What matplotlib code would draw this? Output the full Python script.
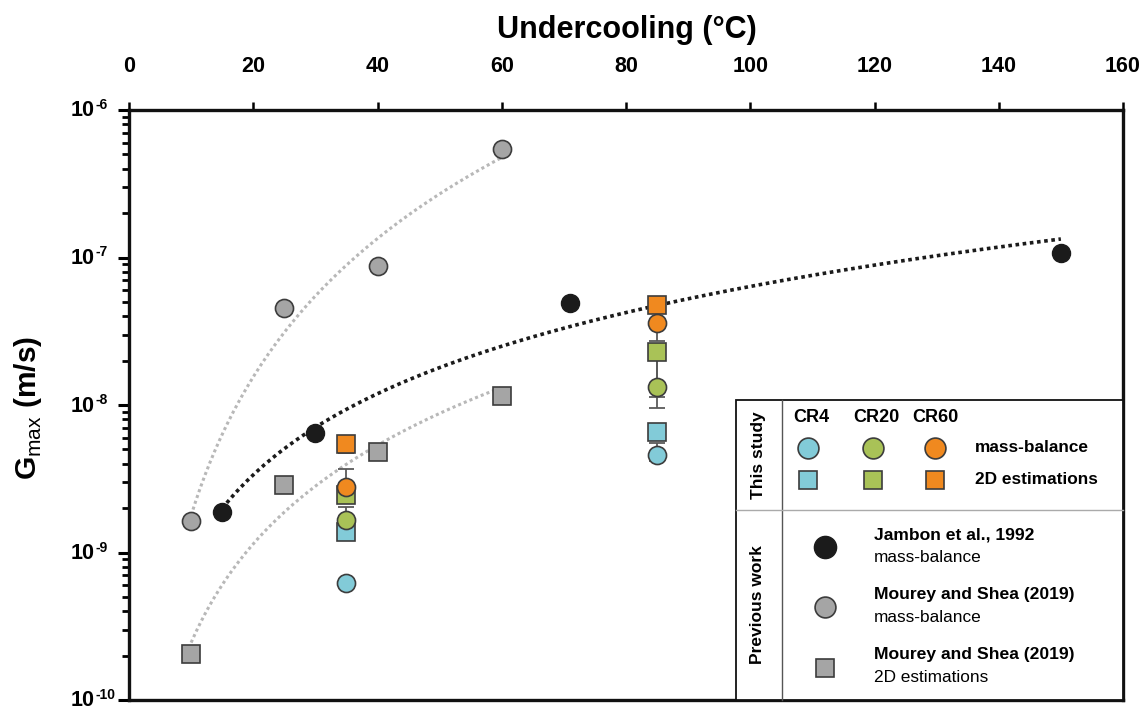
import numpy as np
import matplotlib
matplotlib.use('Agg')
import matplotlib.pyplot as plt
from matplotlib.patches import Rectangle
from matplotlib.ticker import LogLocator, NullFormatter, FixedLocator
from matplotlib.transforms import blended_transform_factory, offset_copy

plt.rcParams['font.family'] = ['Liberation Sans', 'DejaVu Sans']
plt.rcParams['mathtext.fontset'] = 'custom'
plt.rcParams['mathtext.rm'] = 'Liberation Sans'
plt.rcParams['mathtext.bf'] = 'Liberation Sans:bold'

# previous work
jambon_dt = [15, 30, 71, 150]
jambon_g = [1.87e-9, 6.5e-9, 4.9e-8, 1.07e-7]
mourey_mb_dt = [10, 25, 40, 60]
mourey_mb_g = [1.63e-9, 4.56e-8, 8.8e-8, 5.44e-7]
mourey_2d_dt = [10, 25, 40, 60]
mourey_2d_g = [2.04e-10, 2.87e-9, 4.8e-9, 1.15e-8]

# this study (undercooling 35 and 85 °C)
study_dt = [35, 85]
cr4_mb = [6.2e-10, 4.6e-9]
cr20_mb = [1.66e-9, 1.32e-8]
cr60_mb = [2.78e-9, 3.6e-8]
cr4_2d = [1.38e-9, 6.6e-9]
cr20_2d = [2.45e-9, 2.29e-8]
cr60_2d = [5.4e-9, 4.8e-8]

# error bounds (low, high); None = no bar
cr4_mb_err = [None, (4.2e-9, 5.5e-9)]
cr20_mb_err = [(1.45e-9, 2.05e-9), (9.5e-9, 2.1e-8)]
cr60_mb_err = [(2.3e-9, 3.7e-9), (2.7e-8, 4.3e-8)]
cr20_2d_err = [None, (1.13e-8, 2.29e-8)]
cr60_2d_err = [(4.7e-9, 5.4e-9), None]

y_decades = [-10, -9, -8, -7, -6]

c_cyan = '#82CBD8'
c_green = '#A9C257'
c_orange = '#F0891F'
c_gray = '#A5A5A5'
c_black = '#1B1B1B'
edge = '#3C3C3C'

W, H = 1146, 706
fig = plt.figure(figsize=(W / 100, H / 100), dpi=100)
ax = fig.add_axes([129 / W, 6 / H, (1123 - 129) / W, (700 - 110) / H])
ax.set_yscale('log')
ax.set_xlim(0, 160)
ax.set_ylim(1e-10, 1e-6)


def power_fit(x, y):
    b, a = np.polyfit(np.log(x), np.log(y), 1)
    xs = np.linspace(min(x), max(x), 200)
    return xs, np.exp(a) * xs ** b


xs, ys = power_fit(jambon_dt, jambon_g)
ax.plot(xs, ys, color=c_black, lw=2.6, ls=(0, (1, 1)), zorder=2)
xs, ys = power_fit(mourey_mb_dt, mourey_mb_g)
ax.plot(xs, ys, color='#B8B8B8', lw=2.2, ls=(0, (1, 1)), zorder=2)
xs, ys = power_fit(mourey_2d_dt, mourey_2d_g)
ax.plot(xs, ys, color='#B8B8B8', lw=2.2, ls=(0, (1, 1)), zorder=2)


def bars(vals, errs):
    for x, v, e in zip(study_dt, vals, errs):
        if e is None:
            continue
        ax.errorbar([x], [v], yerr=[[v - e[0]], [e[1] - v]], fmt='none',
                    ecolor='#5A5A5A', elinewidth=1.3, capsize=6, capthick=1.3,
                    zorder=3)


for vals, errs in [(cr4_mb, cr4_mb_err), (cr20_mb, cr20_mb_err),
                   (cr60_mb, cr60_mb_err), (cr20_2d, cr20_2d_err),
                   (cr60_2d, cr60_2d_err)]:
    bars(vals, errs)

mk = dict(ls='none', mec=edge, mew=1.2, zorder=4)
ax.plot(mourey_2d_dt, mourey_2d_g, 's', ms=12.5, mfc=c_gray, **mk)
ax.plot(mourey_mb_dt, mourey_mb_g, 'o', ms=13, mfc=c_gray, **mk)
ax.plot(jambon_dt, jambon_g, 'o', ms=13, mfc=c_black, ls='none', mec=c_black, zorder=4)
for vals, col in [(cr4_2d, c_cyan), (cr20_2d, c_green), (cr60_2d, c_orange)]:
    ax.plot(study_dt, vals, 's', ms=12.5, mfc=col, **mk)
for vals, col in [(cr4_mb, c_cyan), (cr20_mb, c_green), (cr60_mb, c_orange)]:
    ax.plot(study_dt, vals, 'o', ms=13, mfc=col, **mk)

# axes styling
for s in ax.spines.values():
    s.set_linewidth(2.4)
    s.set_color('#111111')
ax.xaxis.tick_top()
ax.set_xticks(np.arange(0, 161, 20))
ax.tick_params(axis='x', which='major', direction='out', length=6, width=1.8,
               pad=18, labelsize=15.5)
for lab in ax.get_xticklabels():
    lab.set_fontweight('bold')

ax.yaxis.set_major_locator(FixedLocator([10.0 ** d for d in y_decades]))
ax.yaxis.set_minor_locator(LogLocator(base=10, subs=np.arange(2, 10)))
ax.yaxis.set_major_formatter(NullFormatter())
ax.yaxis.set_minor_formatter(NullFormatter())
ax.tick_params(axis='y', which='major', direction='out', length=8, width=2.2)
ax.tick_params(axis='y', which='minor', direction='out', length=5, width=2)

# y tick labels written as 10 plus a raised exponent with a plain hyphen
ytr = blended_transform_factory(ax.transAxes, ax.transData)
for d in y_decades:
    ax.text(0, 10.0 ** d, '10', ha='right', va='center', fontsize=15.5,
            fontweight='bold', clip_on=False,
            transform=offset_copy(ytr, fig, x=-34, y=-1, units='dots'))
    ax.text(0, 10.0 ** d, '-%d' % -d, ha='left', va='center', fontsize=10,
            fontweight='bold', clip_on=False,
            transform=offset_copy(ytr, fig, x=-34, y=5, units='dots'))

fig.text(627 / W, 1 - 30 / H, 'Undercooling (°C)', ha='center', va='center',
         fontsize=22, fontweight='bold')
fig.text(28 / W, 1 - 408 / H, r'$\mathbf{G}_{\mathrm{max}}$ (m/s)',
         rotation=90, ha='center', va='center', fontsize=21.5, fontweight='bold')

# legend panel in pixel coordinates
lg = fig.add_axes([0, 0, 1, 1], zorder=5)
lg.set_xlim(0, W)
lg.set_ylim(H, 0)
lg.axis('off')
lg.add_patch(Rectangle((736, 400), 1123 - 736, 300, fc='white', ec='#111111', lw=1.3))
lg.plot([782, 782], [400, 700], color='#555555', lw=1.0)
lg.plot([736, 1123], [510, 510], color='#AAAAAA', lw=1.0)
lg.text(758, 455, 'This study', rotation=90, ha='center', va='center',
        fontsize=12.5, fontweight='bold')
lg.text(758, 605, 'Previous work', rotation=90, ha='center', va='center',
        fontsize=12.5, fontweight='bold')
for x, name in zip([811, 876, 935], ['CR4', 'CR20', 'CR60']):
    lg.text(x, 418, name, ha='center', va='center', fontsize=13, fontweight='bold')
for x, col in zip([808, 873, 935], [c_cyan, c_green, c_orange]):
    lg.plot([x], [448], 'o', ms=15, mfc=col, mec=edge, mew=1.2)
    lg.plot([x], [480], 's', ms=13.5, mfc=col, mec=edge, mew=1.2)
lg.text(975, 448, 'mass-balance', ha='left', va='center', fontsize=12.4, fontweight='bold')
lg.text(975, 480, '2D estimations', ha='left', va='center', fontsize=12.4, fontweight='bold')

lg.plot([825], [547], 'o', ms=16, mfc=c_black, mec=c_black)
lg.plot([825], [607], 'o', ms=15, mfc=c_gray, mec=edge, mew=1.2)
lg.plot([825], [668], 's', ms=13.5, mfc=c_gray, mec=edge, mew=1.2)
for y, title, sub in [(535, 'Jambon et al., 1992', 'mass-balance'),
                      (594, 'Mourey and Shea (2019)', 'mass-balance'),
                      (655, 'Mourey and Shea (2019)', '2D estimations')]:
    lg.text(874, y, title, ha='left', va='center', fontsize=12.6, fontweight='bold')
    lg.text(874, y + 23, sub, ha='left', va='center', fontsize=12.4)

fig.savefig('out.png', dpi=100)
